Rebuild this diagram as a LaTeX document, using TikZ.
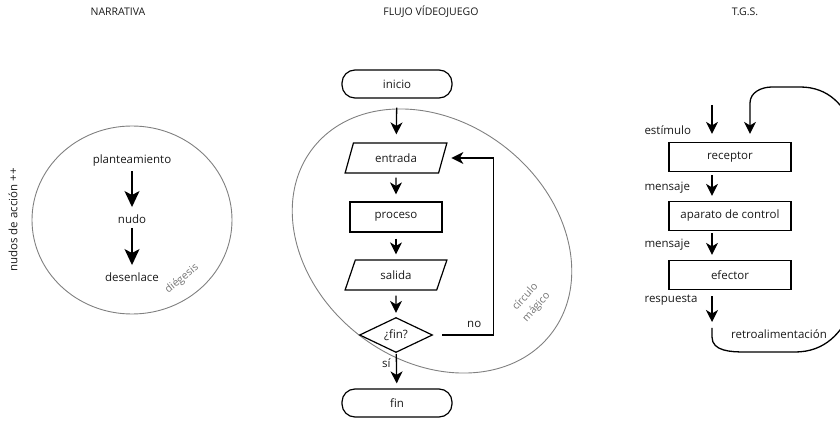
\documentclass[tikz,border=0pt]{standalone}
\usepackage{fontspec}
\setmainfont{Open Sans}
\usetikzlibrary{shapes.geometric,arrows.meta}

\begin{document}
\begin{tikzpicture}[x=1pt,y=1pt,
		every node/.style={font=\fontsize{11.5}{13}\selectfont,text=black!90},
		titulo/.style={font=\fontsize{10.5}{12}\selectfont},
		nota/.style={text=black!55,font=\fontsize{10.5}{15}\selectfont,inner sep=1pt},
		flecha/.style={line width=1.3pt,-{Stealth[length=12pt,width=12pt,inset=3.5pt]},shorten <=4pt,shorten >=6pt},
		flechagrande/.style={flecha,-{Stealth[length=16pt,width=15pt,inset=4pt]}},
		caja/.style={draw,line width=1.2pt,minimum width=92pt,minimum height=30pt,inner sep=0pt},
		cajatgs/.style={caja,minimum width=122pt,minimum height=29pt},
		terminal/.style={draw,line width=1.2pt,rounded corners=13pt,minimum width=110pt,minimum height=28pt},
		datos/.style={draw,line width=1.2pt,trapezium,trapezium left angle=73,trapezium right angle=107,trapezium stretches=true,minimum width=102pt,minimum height=30pt},
		decision/.style={draw,line width=1.2pt,diamond,inner sep=0pt,minimum width=73pt,minimum height=35pt},
		contorno/.style={draw=black!50,line width=0.9pt}]
	\useasboundingbox (0,0) rectangle (840,423);
	\clip (0,0) rectangle (840,423);
	
	% titulos
	\node[titulo] (tnarr) at (118,411) {NARRATIVA};
	\node[titulo] (tflujo) at (431,411) {FLUJO VÍDEOJUEGO};
	\node[titulo] (ttgs) at (745,411) {T.G.S.};
	
	% narrativa
	\draw[contorno] (132,203) ellipse [x radius=100, y radius=94];
	\node (plant) at (132,262) {planteamiento};
	\node (nudo) at (132,204) {nudo};
	\node (desen) at (132,146) {desenlace};
	\node[nota,rotate=39] (dieg) at (182,144) {diégesis};
	\node[rotate=90] (nudos) at (13,203) {nudos de acción ++};
	\draw[flechagrande,shorten <=1pt,shorten >=4pt] (plant) -- (nudo);
	\draw[flechagrande,shorten <=1pt,shorten >=4pt] (nudo) -- (desen);
	
	% flujo videojuego
	\draw[contorno,rotate around={-38:(432,182)}] (432,182) ellipse [x radius=151, y radius=119];
	\node[terminal] (inicio) at (397,339) {inicio};
	\node[datos] (entrada) at (396,265) {entrada};
	\node[caja] (proceso) at (396,206) {proceso};
	\node[datos] (salida) at (396,148) {salida};
	\node[decision] (fin?) at (396,88) {¿fin?};
	\node[terminal] (fin) at (397,20) {fin};
	\node[nota,rotate=48,align=center] (circulo) at (531,121) {círculo\\mágico};
	\draw[flecha,shorten <=9pt,shorten >=8pt] (inicio) -- (entrada);
	\draw[flecha,shorten >=7pt] (entrada) -- (proceso);
	\draw[flecha,shorten <=6pt,shorten >=5pt] (proceso) -- (salida);
	\draw[flecha,shorten <=5pt,shorten >=4pt] (salida) -- (fin?);
	\draw[flecha,shorten <=1pt,shorten >=5pt] (fin?) -- (fin) node[pos=0.3,left=2pt] (si) {sí};
	\draw[flecha,shorten <=9pt,shorten >=8pt] (fin?.east) -- ++(60.5,0) node[pos=0.68,above=3pt] (no) {no} |- (entrada.east);
	
	% T.G.S.
	\node[cajatgs] (receptor) at (730,266) {receptor};
	\node[cajatgs] (aparato) at (730,207) {aparato de control};
	\node[cajatgs] (efector) at (730,148) {efector};
	\coordinate (estim) at (712,318);
	\coordinate (resp) at (712,101);
	\coordinate (retro) at (712,95);
	\node[anchor=west] (lestim) at (641,293) {estímulo};
	\node[anchor=west] (lmens1) at (641,235) {mensaje};
	\node[anchor=west] (lmens2) at (641,178) {mensaje};
	\node[anchor=west] (lresp) at (641,123) {respuesta};
	\node (lretro) at (779,89) {retroalimentación};
	\draw[flecha,shorten <=0pt,shorten >=8pt] (estim) -- (receptor.north -| estim);
	\draw[flecha,shorten <=3pt,shorten >=5pt] (receptor.south -| estim) -- (aparato.north -| estim);
	\draw[flecha,shorten <=2pt,shorten >=5pt] (aparato.south -| estim) -- (efector.north -| estim);
	\draw[flecha,shorten <=6pt,shorten >=0pt] (efector.south -| estim) -- (resp);
	\draw[flecha,shorten <=0pt,shorten >=8pt] (retro) -- (712,86) to[out=-90,in=180] (745,71) -- (795,71)
		to[out=0,in=-90] (866,205) to[out=90,in=0] (800,336) -- (772,336)
		to[out=180,in=90] (750,320) -- (receptor.north -| 750,0);
\end{tikzpicture}
\end{document}
